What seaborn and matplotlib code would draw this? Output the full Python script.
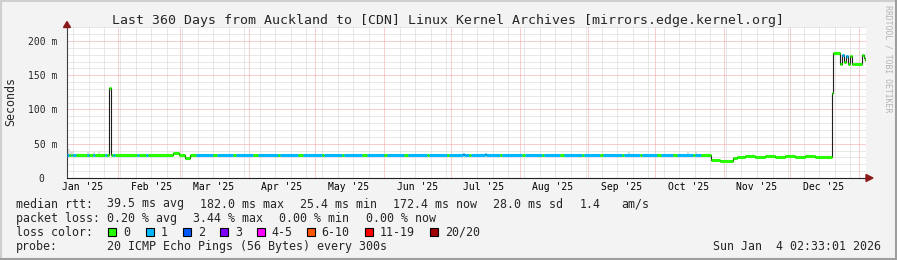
import numpy as np
import pandas as pd
import matplotlib
matplotlib.use("Agg")
import matplotlib.pyplot as plt
import matplotlib.transforms as mtransforms
from matplotlib.patches import Rectangle, Polygon
from matplotlib.lines import Line2D
import seaborn as sns

sns.set_style("white")
plt.rcParams['font.family'] = ['DejaVu Sans Mono', 'DejaVu Sans']

# ---------------- data ----------------
title_text = "Last 360 Days from Auckland to [CDN] Linux Kernel Archives [mirrors.edge.kernel.org]"
window_start = "2025-01-09 02:33:01"
window_end = "2026-01-04 02:33:01"

# median rtt segments: start (days since window start), median (ms), loss class index
seg_day = [0.0, 1.0, 1.8, 2.3, 2.8, 3.9, 9.1, 10.0, 11.85, 12.75, 17.1, 17.9,
           19.05, 19.6, 20.05, 20.9, 21.6, 31.7, 32.6, 35.6, 36.4,
           47.8, 50.5, 53.2, 55.4, 58.0, 66.0, 67.5, 75.0, 76.0, 84.0, 86.0,
           95.0, 96.0, 104.0, 106.5, 115.0, 116.0, 124.0, 125.0, 133.0, 135.0,
           143.0, 144.0, 152.0, 153.5, 162.0, 163.0, 171.0, 172.0, 178.4, 179.0,
           181.0, 182.0, 188.3, 189.0, 195.0, 196.0, 205.0, 206.5, 214.0, 215.0,
           222.0, 224.0, 232.0, 233.0, 240.0, 241.5, 250.0, 251.0, 258.0, 259.0,
           266.0, 267.5, 273.0, 275.0, 282.0, 283.0, 285.5,
           290.2, 294.2, 300.1, 301.9, 305.5, 310.0, 314.5, 319.0, 323.5, 328.0,
           332.5, 337.0, 341.5,
           344.8, 345.3, 348.3, 349.2, 350.1, 351.0, 352.0, 352.8, 353.7, 354.6,
           358.2, 359.1, 359.6]
seg_ms = [34, 34, 34, 34, 34, 34, 34, 34, 34, 34, 34, 34,
          131, 59, 34, 34, 34, 34, 34, 34, 34,
          36, 33.6, 29.5, 34, 34, 34, 34, 34, 34, 34, 34,
          34, 34, 34, 34, 34, 34, 34, 34, 34, 34,
          34, 34, 34, 34, 34, 34, 34, 34, 35.5, 34,
          34, 34, 35.5, 34, 34, 34, 34, 34, 34, 34,
          34, 34, 34, 34, 34, 34, 34, 34, 34, 34,
          34, 34, 34, 34, 34, 34, 34,
          26.5, 25.4, 28.5, 30.5, 31.5, 30.5, 31.5, 30.5, 31.5, 30.5,
          31.5, 30.5, 31,
          124, 182, 167, 180, 170, 178, 166, 178, 166, 166,
          180, 175, 172]
seg_loss = [1, 0, 1, 0, 1, 0, 1, 0, 1, 0, 1, 0,
            0, 0, 0, 1, 0, 1, 0, 1, 0,
            0, 0, 0, 0, 1, 0, 1, 0, 1, 0, 1,
            0, 1, 0, 1, 0, 1, 0, 1, 0, 1,
            0, 1, 0, 1, 0, 1, 0, 1, 1, 1,
            0, 1, 1, 1, 0, 1, 0, 1, 0, 1,
            0, 1, 0, 1, 0, 1, 0, 1, 0, 1,
            0, 1, 0, 1, 0, 1, 0,
            0, 0, 0, 0, 0, 0, 0, 0, 0, 0,
            0, 0, 0,
            0, 0, 0, 1, 0, 1, 0, 0, 0, 0,
            0, 0, 0]

# smoke (spread of individual pings), light grey
smoke_day = [0.8, 1.6, 2.6, 9.5, 12.0, 14.5, 253.0, 280.0, 283.5]
smoke_lo = [35, 35, 35, 35, 35, 35, 35, 35, 35]
smoke_hi = [42, 40, 39, 38, 38, 39, 38, 38, 38]

loss_labels = ["0", "1", "2", "3", "4-5", "6-10", "11-19", "20/20"]
loss_colors = ["#26ff00", "#00b8ff", "#0059ff", "#7e00ff", "#ff00ff", "#ff5500", "#ff0000", "#a00000"]

y_ticks = [0, 50, 100, 150, 200]
y_tick_labels = ["0", "50 m", "100 m", "150 m", "200 m"]
month_labels = ["Jan '25", "Feb '25", "Mar '25", "Apr '25", "May '25", "Jun '25",
                "Jul '25", "Aug '25", "Sep '25", "Oct '25", "Nov '25", "Dec '25"]

stat_rows = [
    ["median rtt:", "39.5 ms avg", "182.0 ms max", "25.4 ms min", "172.4 ms now", "28.0 ms sd", "1.4", "am/s"],
    ["packet loss:", "0.20 % avg", "3.44 % max", "0.00 % min", "0.00 % now"],
]
probe_text = "20 ICMP Echo Pings (56 Bytes) every 300s"
stamp_text = "Sun Jan  4 02:33:01 2026"

# ---------------- figure ----------------
W, H = 897, 260
fig = plt.figure(figsize=(W / 100, H / 100), dpi=100, facecolor="#f3f3f3")
L, R, T, B = 67, 866, 27, 178
ax = fig.add_axes([L / W, 1 - B / H, (R - L) / W, (B - T) / H])
ax.set_facecolor("white")

t0 = pd.Timestamp(window_start)
t1 = pd.Timestamp(window_end)
seg_t = [t0 + pd.Timedelta(days=d) for d in seg_day]
df = pd.DataFrame({"t": seg_t + [t1], "ms": seg_ms + [seg_ms[-1]],
                   "loss": seg_loss + [seg_loss[-1]]})

# grid
months = pd.date_range("2025-02-01", "2026-01-01", freq="MS")
weeks = pd.date_range("2025-01-12", "2026-01-04", freq="7D")
ax.set_xlim(t0, t1)
ax.set_ylim(0, 220.4)
ax.set_xticks(months)
ax.set_xticks(weeks, minor=True)
ax.set_xticklabels([])
ax.set_yticks(y_ticks)
ax.set_yticks(np.arange(0, 221, 10), minor=True)
ax.grid(which="minor", color="#d2d2d2", lw=0.72, ls=(0, (1, 1)))
ax.grid(which="major", color="#f2a0a0", lw=0.72, ls=(0, (1, 1)))
ax.set_axisbelow(True)

# smoke
for d, lo, hi in zip(smoke_day, smoke_lo, smoke_hi):
    tt = t0 + pd.Timedelta(days=d)
    ax.vlines(tt, lo, hi, color="#d8d8d8", lw=1.2, zorder=2)

# black median line
sns.lineplot(data=df, x="t", y="ms", drawstyle="steps-post", color="#202020",
             lw=0.8, ax=ax, zorder=3, legend=False)
# loss-coloured band
for i in range(len(seg_t)):
    ax.hlines(seg_ms[i], seg_t[i], df["t"][i + 1], color=loss_colors[seg_loss[i]],
              lw=2.2, zorder=4, capstyle="butt")

# axes styling
for s in ["top", "right"]:
    ax.spines[s].set_visible(False)
ax.spines["left"].set_color("#404040")
ax.spines["bottom"].set_color("#202020")
ax.spines["left"].set_linewidth(0.8)
ax.spines["bottom"].set_linewidth(0.8)
ax.tick_params(axis="y", which="major", length=3, width=0.8, color="#404040",
               labelsize=7, pad=4)
ax.tick_params(axis="y", which="minor", length=0)
ax.tick_params(axis="x", which="both", length=0)
ax.set_yticklabels(y_tick_labels)
ax.set_xlabel("")
ax.set_ylabel("")
# shift "0" label to mimic unit-aligned column
ax.get_yticklabels()[0].set_transform(
    ax.get_yticklabels()[0].get_transform()
    + mtransforms.ScaledTranslation(-13 / 100, 0, fig.dpi_scale_trans))

# month labels at mid-month
mids = [pd.Timestamp(2025, m, 16) for m in range(1, 13)]
for lab, mt in zip(month_labels, mids):
    ax.text(mt, -(189.5 - B) / (B - T), lab, transform=ax.get_xaxis_transform(),
            ha="center", va="baseline", fontsize=7, color="black")

def px(x, y):
    return x / W, 1 - y / H

# y label
fig.text(11 / W, 1 - 102 / H, "Seconds", rotation=90, ha="center", va="center", fontsize=8.4)

# axis arrows
fig.add_artist(Polygon([px(63.5, 27.5), px(70.5, 27.5), px(67, 21.5)], closed=True,
                       color="#8b1a1a", transform=fig.transFigure))
fig.add_artist(Polygon([px(866, 174.5), px(866, 181.5), px(873, 178)], closed=True,
                       color="#8b1a1a", transform=fig.transFigure))

# title
fig.text(447.5 / W, 1 - 24 / H, title_text, ha="center", va="baseline", fontsize=9.5)

# right-side vertical text
fig.text(888 / W, 1 - 5 / H, "RRDTOOL / TOBI OETIKER", rotation=270, ha="center",
         va="top", fontsize=5.9, color="#b4b4b4")

# stats rows
row1_x = [16, 107.3, 200, 300, 392.7, 493.3, 579.3, 621]
row2_x = [16, 107.3, 193.3, 279.3, 365.7]
for txt, x in zip(stat_rows[0], row1_x):
    fig.text(x / W, 1 - 207.5 / H, txt, ha="left", va="baseline", fontsize=8.4)
for txt, x in zip(stat_rows[1], row2_x):
    fig.text(x / W, 1 - 221.7 / H, txt, ha="left", va="baseline", fontsize=8.4)

fig.text(16 / W, 1 - 235.7 / H, "loss color:", ha="left", va="baseline", fontsize=8.4)
box_x = [108.3, 145.7, 183.3, 220, 256.7, 306.7, 365, 430]
for lab, col, bx in zip(loss_labels, loss_colors, box_x):
    fig.add_artist(Rectangle(px(bx, 235.5), 8 / W, 8 / H, facecolor=col,
                             edgecolor="black", lw=0.8, transform=fig.transFigure))
    fig.text((bx + 15) / W, 1 - 235.7 / H, lab, ha="left", va="baseline", fontsize=8.4)

fig.text(16 / W, 1 - 250 / H, "probe:", ha="left", va="baseline", fontsize=8.4)
fig.text(107.3 / W, 1 - 250 / H, probe_text, ha="left", va="baseline", fontsize=8.4)
fig.text(880.5 / W, 1 - 250 / H, stamp_text, ha="right", va="baseline", fontsize=8.4)

# 3-D frame
fig.add_artist(Line2D([0, 1], [1 - 0.5 / H] * 2, color="#cfcfcf", lw=1.5, transform=fig.transFigure))
fig.add_artist(Line2D([0.5 / W] * 2, [0, 1], color="#cfcfcf", lw=1.5, transform=fig.transFigure))
fig.add_artist(Line2D([0, 1], [1.0 / H] * 2, color="#9e9e9e", lw=1.5, transform=fig.transFigure))
fig.add_artist(Line2D([1 - 1.0 / W] * 2, [0, 1], color="#9e9e9e", lw=1.5, transform=fig.transFigure))

fig.savefig("out.png", dpi=100, facecolor=fig.get_facecolor())
